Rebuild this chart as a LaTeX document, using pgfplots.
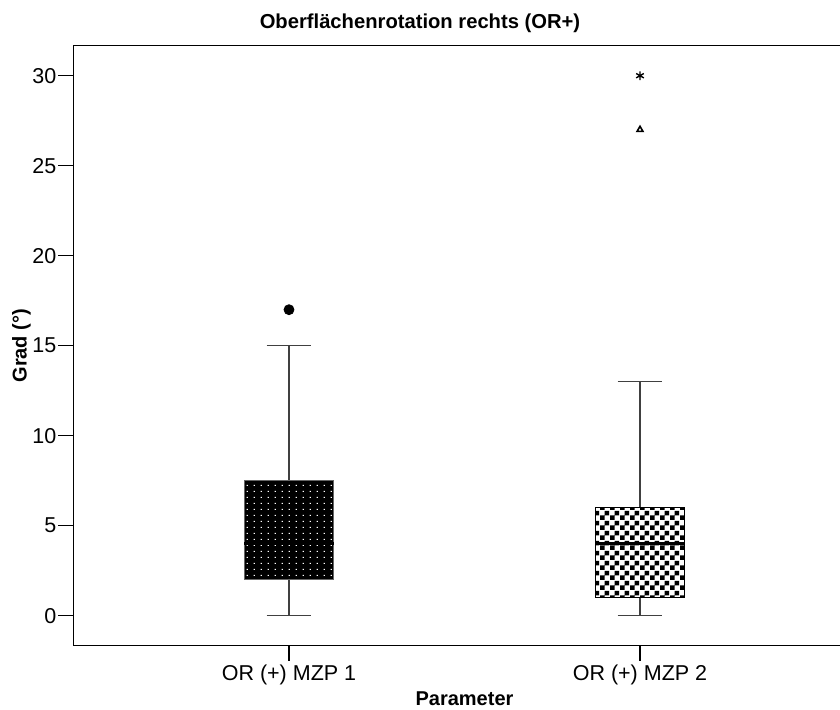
\documentclass[border=0pt]{standalone}
\usepackage{fontspec}
\setmainfont{Liberation Sans}
\usepackage{pgfplots}
\pgfplotsset{compat=1.18}
\usetikzlibrary{patterns}
\pgfdeclarepatternformonly{wdots}{\pgfqpoint{0pt}{0pt}}{\pgfqpoint{3.6pt}{2.75pt}}{\pgfqpoint{3.6pt}{2.75pt}}{%
  \pgfpathrectangle{\pgfqpoint{1.5pt}{1.1pt}}{\pgfqpoint{0.6pt}{0.6pt}}\pgfusepath{fill}}
\pgfdeclarepatternformonly{mychecker}{\pgfqpoint{0pt}{0pt}}{\pgfqpoint{5pt}{5pt}}{\pgfqpoint{5pt}{5pt}}{%
  \pgfpathrectangle{\pgfqpoint{0pt}{0pt}}{\pgfqpoint{2.5pt}{2.5pt}}%
  \pgfpathrectangle{\pgfqpoint{2.5pt}{2.5pt}}{\pgfqpoint{2.5pt}{2.5pt}}\pgfusepath{fill}}
\begin{document}
\begin{tikzpicture}
\useasboundingbox (-36.65pt,-32.15pt) rectangle (383.35pt,322.85pt);
\begin{axis}[
  scale only axis,
  width=391.2pt, height=300pt,
  xmin=0.3855, xmax=2.6145,
  ymin=-1.667, ymax=31.667,
  axis line style={line width=0.8pt},
  tick align=outside,
  major tick length=7.5pt,
  tick style={line width=0.6pt, black},
  xtick={1,2},
  xticklabels={OR (+) MZP 1, OR (+) MZP 2},
  ytick={0,5,10,15,20,25,30},
  xtick pos=bottom, ytick pos=left,
  /pgf/number format/assume math mode=true,
  ticklabel style={font=\fontsize{10.75}{12}\selectfont},
  yticklabel style={inner xsep=0.8pt},
  xticklabel style={inner ysep=2pt},
  xlabel={\textbf{Parameter}},
  ylabel={\textbf{Grad (°)}},
  label style={font=\fontsize{10}{12}\selectfont},
  xlabel style={yshift=2pt},
  ylabel style={yshift=-3.5pt},
  clip=false,
]
% --- MZP 1: whiskers, caps, box, median
\addplot[black!75, line width=0.6pt] coordinates {(1,7.5) (1,15)};
\addplot[black!75, line width=0.6pt] coordinates {(1,0) (1,2)};
\addplot[black!75, line width=0.6pt] coordinates {(0.9365,15) (1.0635,15)};
\addplot[black!75, line width=0.6pt] coordinates {(0.9365,0) (1.0635,0)};
\addplot[draw=black!60, line width=0.5pt, fill=black, postaction={pattern=wdots, pattern color=white}]
  coordinates {(0.873,2) (1.127,2) (1.127,7.5) (0.873,7.5)} --cycle;
\addplot[black, line width=1.5pt] coordinates {(0.873,4) (1.127,4)};
% --- MZP 2
\addplot[black!75, line width=0.6pt] coordinates {(2,6) (2,13)};
\addplot[black!75, line width=0.6pt] coordinates {(2,0) (2,1)};
\addplot[black!75, line width=0.6pt] coordinates {(1.9365,13) (2.0635,13)};
\addplot[black!75, line width=0.6pt] coordinates {(1.9365,0) (2.0635,0)};
\addplot[draw=black, line width=0.6pt, fill=white, postaction={pattern=mychecker, pattern color=black}]
  coordinates {(1.873,1) (2.127,1) (2.127,6) (1.873,6)} --cycle;
\addplot[black, line width=1.5pt] coordinates {(1.873,4) (2.127,4)};
% --- outliers
\addplot[only marks, mark=*, mark size=2.5pt, black] coordinates {(1,17)};
\addplot[only marks, mark=triangle, mark size=1.7pt, black, mark options={line width=0.8pt}] coordinates {(2,27)};
\addplot[only marks, mark=asterisk, mark size=2.2pt, black, mark options={line width=0.7pt}] coordinates {(2,30)};
\end{axis}
\node[font=\bfseries\fontsize{10.1}{12}\selectfont] at (173.35pt,311.35pt) {Oberflächenrotation rechts (OR+)};
\end{tikzpicture}
\end{document}
